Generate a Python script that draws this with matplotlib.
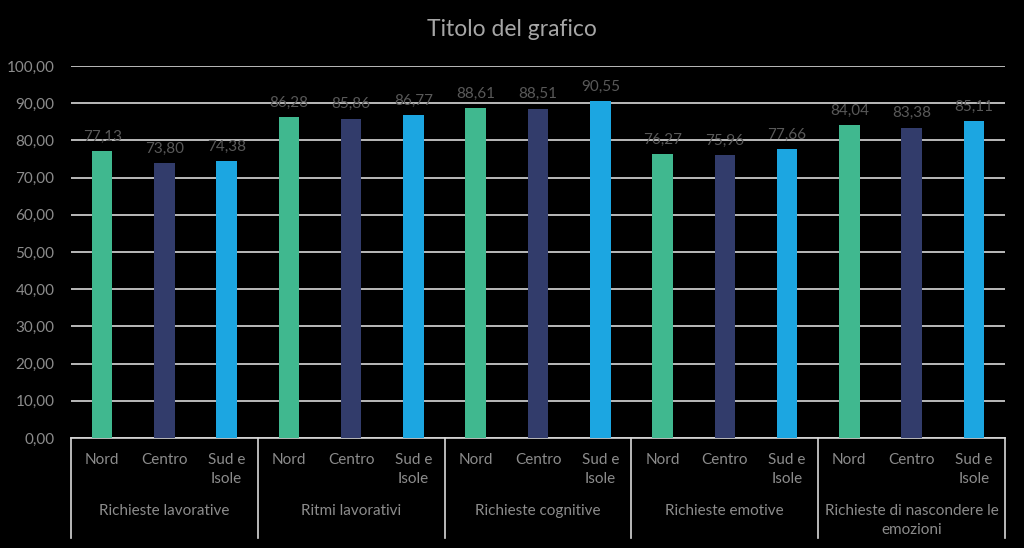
import matplotlib
matplotlib.use('Agg')
import matplotlib.pyplot as plt
import numpy as np

# data
groups = ['Richieste lavorative', 'Ritmi lavorativi', 'Richieste cognitive',
          'Richieste emotive', 'Richieste di nascondere le\nemozioni']
regions = ['Nord', 'Centro', 'Sud e\nIsole']
nord = [77.13, 86.28, 88.61, 76.27, 84.04]
centro = [73.80, 85.86, 88.51, 75.96, 83.38]
sud = [74.38, 86.77, 90.55, 77.66, 85.11]
y_ticks = [0, 10, 20, 30, 40, 50, 60, 70, 80, 90, 100]

colors = ['#40B88F', '#323C6B', '#1CA6E1']
plt.rcParams['font.family'] = ['Lato', 'DejaVu Sans']

fig = plt.figure(figsize=(10.24, 5.48), dpi=100, facecolor='black')
ax = fig.add_axes([71/1024, 110/548, 934/1024, 372/548])
ax.set_facecolor('black')

n = len(groups)
series = [nord, centro, sud]
for k, vals in enumerate(series):
    xs = np.arange(n) * 3 + k
    ax.bar(xs, vals, width=0.33, color=colors[k], zorder=3)
    for x, v in zip(xs, vals):
        ax.text(x, v + 2.0, f'{v:.2f}'.replace('.', ','), ha='center', va='bottom',
                color='#595959', fontsize=11, zorder=4)

ax.set_xlim(-0.5, 3 * n - 0.5)
ax.set_ylim(0, 100)
ax.set_yticks(y_ticks)
ax.set_yticklabels([f'{t:.2f}'.replace('.', ',') for t in y_ticks])
ax.tick_params(axis='y', length=0, colors='#8c8c8c', labelsize=11, pad=12)
ax.set_xticks([])
ax.grid(axis='y', color='#d9d9d9', linewidth=1.2, zorder=0)
for s in ['top', 'right', 'left']:
    ax.spines[s].set_visible(False)
ax.spines['bottom'].set_color('#d9d9d9')
ax.spines['bottom'].set_linewidth(1.2)

trans = ax.get_xaxis_transform()
for g in range(n + 1):
    ax.plot([g * 3 - 0.5] * 2, [0, -0.269], transform=trans, color='#d9d9d9',
            linewidth=1.2, clip_on=False)
for g in range(n):
    for k, r in enumerate(regions):
        ax.text(g * 3 + k, -0.04, r, transform=trans, ha='center', va='top',
                color='#8c8c8c', fontsize=11, linespacing=1.45)
    ax.text(g * 3 + 1, -0.178, groups[g], transform=trans, ha='center', va='top',
            color='#8c8c8c', fontsize=11, linespacing=1.45)

fig.text(0.5, 1 - 30/548, 'Titolo del grafico', ha='center', va='center',
         color='#a6a6a6', fontsize=16.5)

fig.savefig('out.png', dpi=100, facecolor='black')
